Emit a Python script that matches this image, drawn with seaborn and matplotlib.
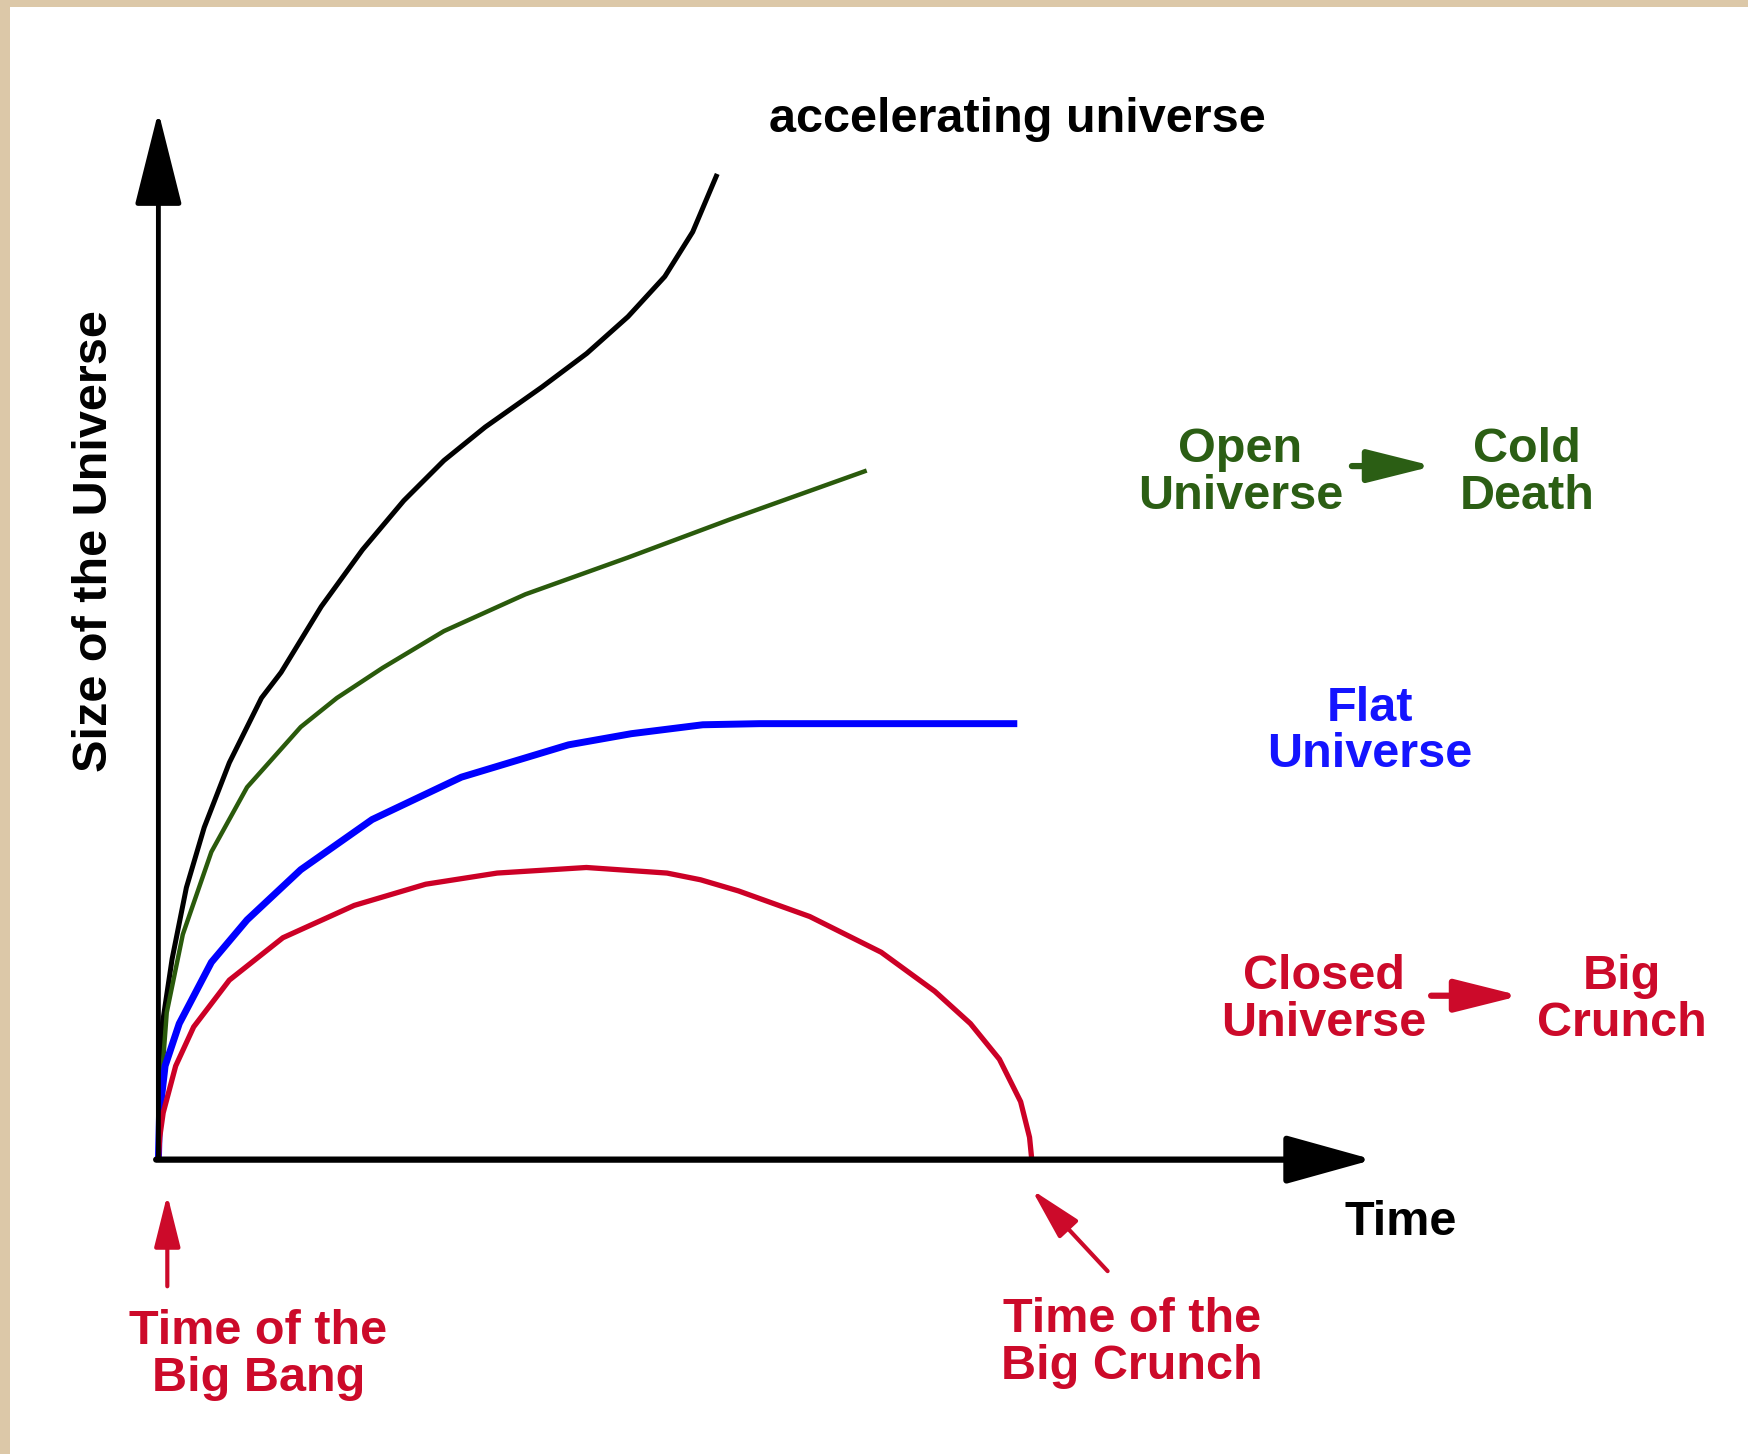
import numpy as np
import pandas as pd
import matplotlib
matplotlib.use("Agg")
import matplotlib.pyplot as plt
import seaborn as sns
from matplotlib.patches import Rectangle

# ---------------- data (time / size in arbitrary units) ----------------
acc_time = [0, 0.008, 0.027, 0.123, 0.251, 0.411, 0.636, 0.924, 1.10, 1.46, 1.83, 2.20,
            2.56, 2.93, 3.44, 3.84, 4.21, 4.54, 4.79, 5.01]
acc_size = [0, 0.55, 1.16, 1.80, 2.44, 2.98, 3.56, 4.14, 4.37, 4.96, 5.47, 5.91,
            6.27, 6.57, 6.93, 7.23, 7.56, 7.92, 8.32, 8.84]

open_time = [0, 0.01, 0.075, 0.219, 0.475, 0.795, 1.276, 1.60, 2.01, 2.56, 3.29, 4.21, 5.12, 6.35]
open_size = [0, 0.45, 1.32, 2.02, 2.76, 3.34, 3.88, 4.14, 4.41, 4.74, 5.07, 5.40, 5.74, 6.18]

flat_time = [0, 0.01, 0.06, 0.187, 0.475, 0.795, 1.276, 1.916, 2.716, 3.677, 4.24, 4.88, 5.39, 7.70]
flat_size = [0, 0.40, 0.84, 1.22, 1.77, 2.15, 2.60, 3.05, 3.43, 3.72, 3.82, 3.90, 3.91, 3.91]

closed_time = [0, 0.012, 0.043, 0.155, 0.316, 0.636, 1.116, 1.756, 2.396, 3.037, 3.837, 4.56,
               4.86, 5.20, 5.84, 6.48, 6.96, 7.28, 7.54, 7.73, 7.81, 7.83]
closed_size = [0, 0.20, 0.42, 0.84, 1.19, 1.61, 1.99, 2.28, 2.47, 2.57, 2.62, 2.57,
               2.51, 2.41, 2.18, 1.86, 1.51, 1.22, 0.90, 0.52, 0.20, 0.0]

series_names = ["accelerating", "open", "flat", "closed"]
series_colors = ["#000000", "#2a5a0c", "#0000ff", "#cc0026"]
series_widths = [3.6, 3.2, 5.0, 3.8]

x_max, y_max = 10.8, 9.32
big_crunch_time = 7.83

GREEN_TXT = "#2b5e14"
BLUE_TXT = "#1414ff"
RED_TXT = "#cc0a2a"

# ---------------- figure ----------------
sns.set_theme(style="white")
plt.rcParams["font.family"] = ["Liberation Sans", "DejaVu Sans"]
plt.rcParams["font.weight"] = "bold"

fig = plt.figure(figsize=(17.49, 14.54), dpi=100)
fig.patch.set_facecolor("white")

# beige frame (top and left strips)
fig.patches.append(Rectangle((0, 1 - 7 / 1454), 1, 7 / 1454, transform=fig.transFigure,
                             facecolor="#dcc8a8", edgecolor="none", zorder=0))
fig.patches.append(Rectangle((0, 0), 10 / 1749, 1, transform=fig.transFigure,
                             facecolor="#dcc8a8", edgecolor="none", zorder=0))

ax = fig.add_axes([142 / 1568, 1 - 1040 / 1304, 1080 / 1568, 932 / 1304])
ax.set_xlim(0, x_max)
ax.set_ylim(0, y_max)
ax.axis("off")

frames = {
    "accelerating": (acc_time, acc_size),
    "open": (open_time, open_size),
    "flat": (flat_time, flat_size),
    "closed": (closed_time, closed_size),
}
for name, col, lw in zip(series_names, series_colors, series_widths):
    t, s = frames[name]
    df = pd.DataFrame({"time": t, "size": s})
    sns.lineplot(data=df, x="time", y="size", ax=ax, color=col, linewidth=lw,
                 estimator=None, sort=False, legend=False, solid_capstyle="butt",
                 solid_joinstyle="round", clip_on=False)

# axes arrows
ax.annotate("", xy=(0, y_max + 0.08), xytext=(0, 0), annotation_clip=False,
            arrowprops=dict(arrowstyle="-|>,head_length=2.95,head_width=0.74",
                            mutation_scale=20, lw=3.5, color="black",
                            shrinkA=0, shrinkB=0))
ax.annotate("", xy=(x_max + 0.09, 0), xytext=(-0.02, 0), annotation_clip=False,
            arrowprops=dict(arrowstyle="-|>,head_length=2.7,head_width=0.75",
                            mutation_scale=20, lw=4.5, color="black",
                            shrinkA=0, shrinkB=0))

FS = 35
ax.text(7.70, 9.22, "accelerating universe", ha="center", va="baseline",
        fontsize=FS, color="black", fontweight="bold", clip_on=False)
ax.text(-0.57, 5.55, "Size of the Universe", ha="center", va="center", rotation=90,
        fontsize=FS, color="black", fontweight="bold", clip_on=False)
ax.text(11.14, -0.672, "Time", ha="center", va="baseline",
        fontsize=FS, color="black", fontweight="bold", clip_on=False)

def block(x, y, s, c):
    ax.text(x, y, s, ha="center", va="center", multialignment="center",
            fontsize=FS, color=c, fontweight="bold", linespacing=1.05, clip_on=False)

block(9.70, 6.16, "Open\nUniverse", GREEN_TXT)
block(12.27, 6.16, "Cold\nDeath", GREEN_TXT)
block(10.86, 3.84, "Flat\nUniverse", BLUE_TXT)
block(10.45, 1.435, "Closed\nUniverse", RED_TXT)
block(13.12, 1.435, "Big\nCrunch", RED_TXT)
block(0.895, -1.753, "Time of the\nBig Bang", RED_TXT)
block(8.73, -1.644, "Time of the\nBig Crunch", RED_TXT)

def arrow(x0, y0, x1, y1, c, lw, hl, hw):
    ax.annotate("", xy=(x1, y1), xytext=(x0, y0), annotation_clip=False,
                arrowprops=dict(arrowstyle=f"-|>,head_length={hl},head_width={hw}",
                                mutation_scale=10, lw=lw, color=c,
                                shrinkA=0, shrinkB=0))

arrow(10.70, 6.22, 11.43, 6.22, GREEN_TXT, 4.5, 4.0, 1.0)
arrow(11.41, 1.47, 12.21, 1.47, RED_TXT, 4.5, 4.0, 1.0)
arrow(0.08, -1.136, 0.08, -0.314, RED_TXT, 3.0, 3.2, 0.8)
arrow(8.51, -1.00, big_crunch_time, -0.27, RED_TXT, 3.0, 3.2, 0.8)

fig.savefig("out.png", dpi=100, facecolor="white")
